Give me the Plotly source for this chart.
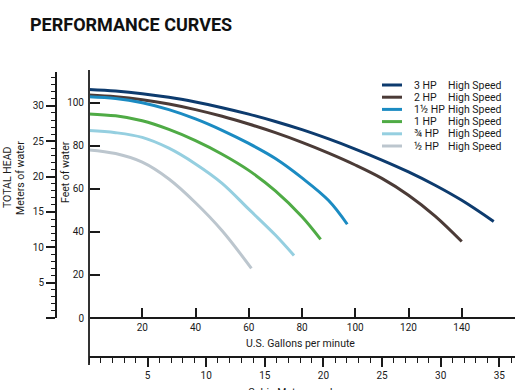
import plotly.graph_objects as go

W, H = 520, 390

# ---- data ----
series_names = ["3 HP", "2 HP", "1½ HP", "1 HP", "¾ HP", "½ HP"]
speed_label = "High Speed"
colors = ["#0d3b6e", "#4b3b37", "#1b8bc2", "#4fab45", "#95cfe0", "#bcc6ce"]

gpm_3hp = [0, 10, 20, 30, 40, 50, 60, 70, 80, 90, 100, 110, 120, 130, 140, 152]
ft_3hp = [106, 105.3, 104.1, 102.4, 100.2, 97.6, 94.6, 91.2, 87.4, 83.1, 78.4, 73.3, 67.8, 61.6, 54.6, 44.8]

gpm_2hp = [0, 10, 20, 30, 40, 50, 60, 70, 80, 90, 100, 110, 120, 130, 140]
ft_2hp = [103.5, 102.7, 101.3, 99.3, 96.7, 93.6, 90, 86, 81.5, 76.5, 71, 64.8, 57, 47.3, 35.5]

gpm_15hp = [0, 10, 20, 30, 40, 50, 60, 70, 80, 90, 97]
ft_15hp = [102.7, 101.9, 99.9, 96.7, 92.4, 87.1, 81, 74, 65, 54.5, 43.5]

gpm_1hp = [0, 10, 20, 30, 40, 50, 60, 70, 80, 87]
ft_1hp = [94.7, 93.8, 91.5, 87.5, 82.3, 76, 68.5, 59, 47, 36.5]

gpm_075hp = [0, 10, 20, 30, 40, 50, 60, 70, 77]
ft_075hp = [87, 86, 83.8, 78.8, 71.5, 62.5, 50.5, 38.5, 29]

gpm_05hp = [0, 10, 20, 30, 40, 50, 61]
ft_05hp = [78, 76.3, 72.3, 64.5, 53.5, 40.5, 23]

gpm_ticks = [20, 40, 60, 80, 100, 120, 140, 160]
gpm_ticktext = ["20", "40", "60", "80", "100", "120", "140", ""]
ft_ticks = [0, 20, 40, 60, 80, 100]
m_ticks = [0, 5, 10, 15, 20, 25, 30]
m_ticktext = ["", "5", "10", "15", "20", "25", "30"]
m3h_ticks = [5, 10, 15, 20, 25, 30, 35]

GPM_PER_M3H = 4.40287
M_PER_FT = 0.3048

xs = [gpm_3hp, gpm_2hp, gpm_15hp, gpm_1hp, gpm_075hp, gpm_05hp]
ys = [ft_3hp, ft_2hp, ft_15hp, ft_1hp, ft_075hp, ft_05hp]

# ---- pixel geometry helpers ----
def px(x):
    return x / W

def py(y):
    return 1 - y / H

FT_PX = 2.155  # px per foot
y0_px = 318
ft_top = (y0_px - 70) / FT_PX
ft_bot = -(365 - y0_px) / FT_PX

font = "Roboto, Arial, sans-serif"
ink = "#1a1a1a"

fig = go.Figure()
for name, c, x, y in zip(series_names, colors, xs, ys):
    fig.add_trace(go.Scatter(x=x, y=y, mode="lines", name=name,
                             line=dict(color=c, width=3, shape="spline", smoothing=1.0),
                             showlegend=False))

# dummy traces so the secondary axes are drawn
fig.add_trace(go.Scatter(x=[None], y=[None], xaxis="x", yaxis="y2", showlegend=False, hoverinfo="skip"))
fig.add_trace(go.Scatter(x=[None], y=[None], xaxis="x2", yaxis="y", showlegend=False, hoverinfo="skip"))

tickfont = dict(family=font, size=10, color=ink)

fig.update_layout(
    width=W, height=H,
    margin=dict(l=0, r=0, t=0, b=0, pad=0),
    paper_bgcolor="white", plot_bgcolor="rgba(0,0,0,0)",
    showlegend=False,
    xaxis=dict(domain=[px(89), px(515)], range=[0, 160], anchor="free", position=py(y0_px),
               showline=True, linecolor=ink, linewidth=2,
               ticks="inside", ticklen=9, tickwidth=2, tickcolor=ink,
               tickvals=gpm_ticks, ticktext=gpm_ticktext, tickfont=tickfont,
               showgrid=False, zeroline=False),
    xaxis2=dict(overlaying="x", range=[0, 160 / GPM_PER_M3H], anchor="free", position=py(357),
                side="bottom", showline=True, linecolor=ink, linewidth=1.5,
                ticks="outside", ticklen=9, tickwidth=1.5, tickcolor=ink,
                tickvals=m3h_ticks, tickfont=tickfont,
                minor=dict(ticks="outside", ticklen=5, tickwidth=1, tickcolor=ink, dtick=1, tick0=0),
                showgrid=False, zeroline=False),
    yaxis=dict(domain=[py(365), py(70)], range=[ft_bot, ft_top], anchor="free", position=px(89),
               showline=True, linecolor="#333", linewidth=2,
               ticks="inside", ticklen=10, tickwidth=2, tickcolor=ink,
               tickvals=ft_ticks, tickfont=tickfont, ticklabelstandoff=2,
               showgrid=False, zeroline=False),
    yaxis2=dict(domain=[py(y0_px), py(72)], range=[0, (y0_px - 72) / FT_PX * M_PER_FT],
                anchor="free", position=px(56),
                showline=True, linecolor=ink, linewidth=2,
                ticks="outside", ticklen=9, tickwidth=2, tickcolor=ink,
                tickvals=m_ticks, ticktext=m_ticktext, tickfont=tickfont,
                minor=dict(ticks="outside", ticklen=4, tickwidth=1, tickcolor=ink, dtick=1, tick0=0),
                showgrid=False, zeroline=False),
)

ann = []
ann.append(dict(text="<b>PERFORMANCE CURVES</b>", x=px(28), y=py(25), xref="paper", yref="paper",
                xanchor="left", yanchor="middle", showarrow=False,
                font=dict(family=font, size=18, color="#111")))
for t, xx, yy in [("TOTAL HEAD", 8, 178), ("Meters of water", 21, 178), ("Feet of water", 65, 172)]:
    ann.append(dict(text=t, x=px(xx), y=py(yy), xref="paper", yref="paper", textangle=-90,
                    xanchor="center", yanchor="middle", showarrow=False,
                    font=dict(family=font, size=10.5, color=ink)))
ann.append(dict(text="U.S. Gallons per minute", x=px(300), y=py(343), xref="paper", yref="paper",
                xanchor="center", yanchor="middle", showarrow=False,
                font=dict(family=font, size=10.5, color=ink)))
ann.append(dict(text="Cubic Meters per hour", x=px(300), y=py(384), xref="paper", yref="paper",
                xanchor="center", yanchor="top", showarrow=False,
                font=dict(family=font, size=10.5, color=ink)))

shapes = []
for i, (name, c) in enumerate(zip(series_names, colors)):
    yy = 85 + 12.2 * i
    shapes.append(dict(type="line", xref="paper", yref="paper", x0=px(382), x1=px(402),
                       y0=py(yy), y1=py(yy), line=dict(color=c, width=3)))
    ann.append(dict(text=name, x=px(412), y=py(yy), xref="paper", yref="paper",
                    xanchor="left", yanchor="middle", showarrow=False,
                    font=dict(family=font, size=10.5, color=ink)))
    ann.append(dict(text=speed_label, x=px(446), y=py(yy), xref="paper", yref="paper",
                    xanchor="left", yanchor="middle", showarrow=False,
                    font=dict(family=font, size=10.5, color=ink)))

fig.update_layout(annotations=ann, shapes=shapes)
fig.write_html(
    "out.html",
    config={"displayModeBar": False},
    post_script="document.body.style.margin='0';document.body.style.padding='0';"
                "document.body.style.overflow='hidden';",
)
